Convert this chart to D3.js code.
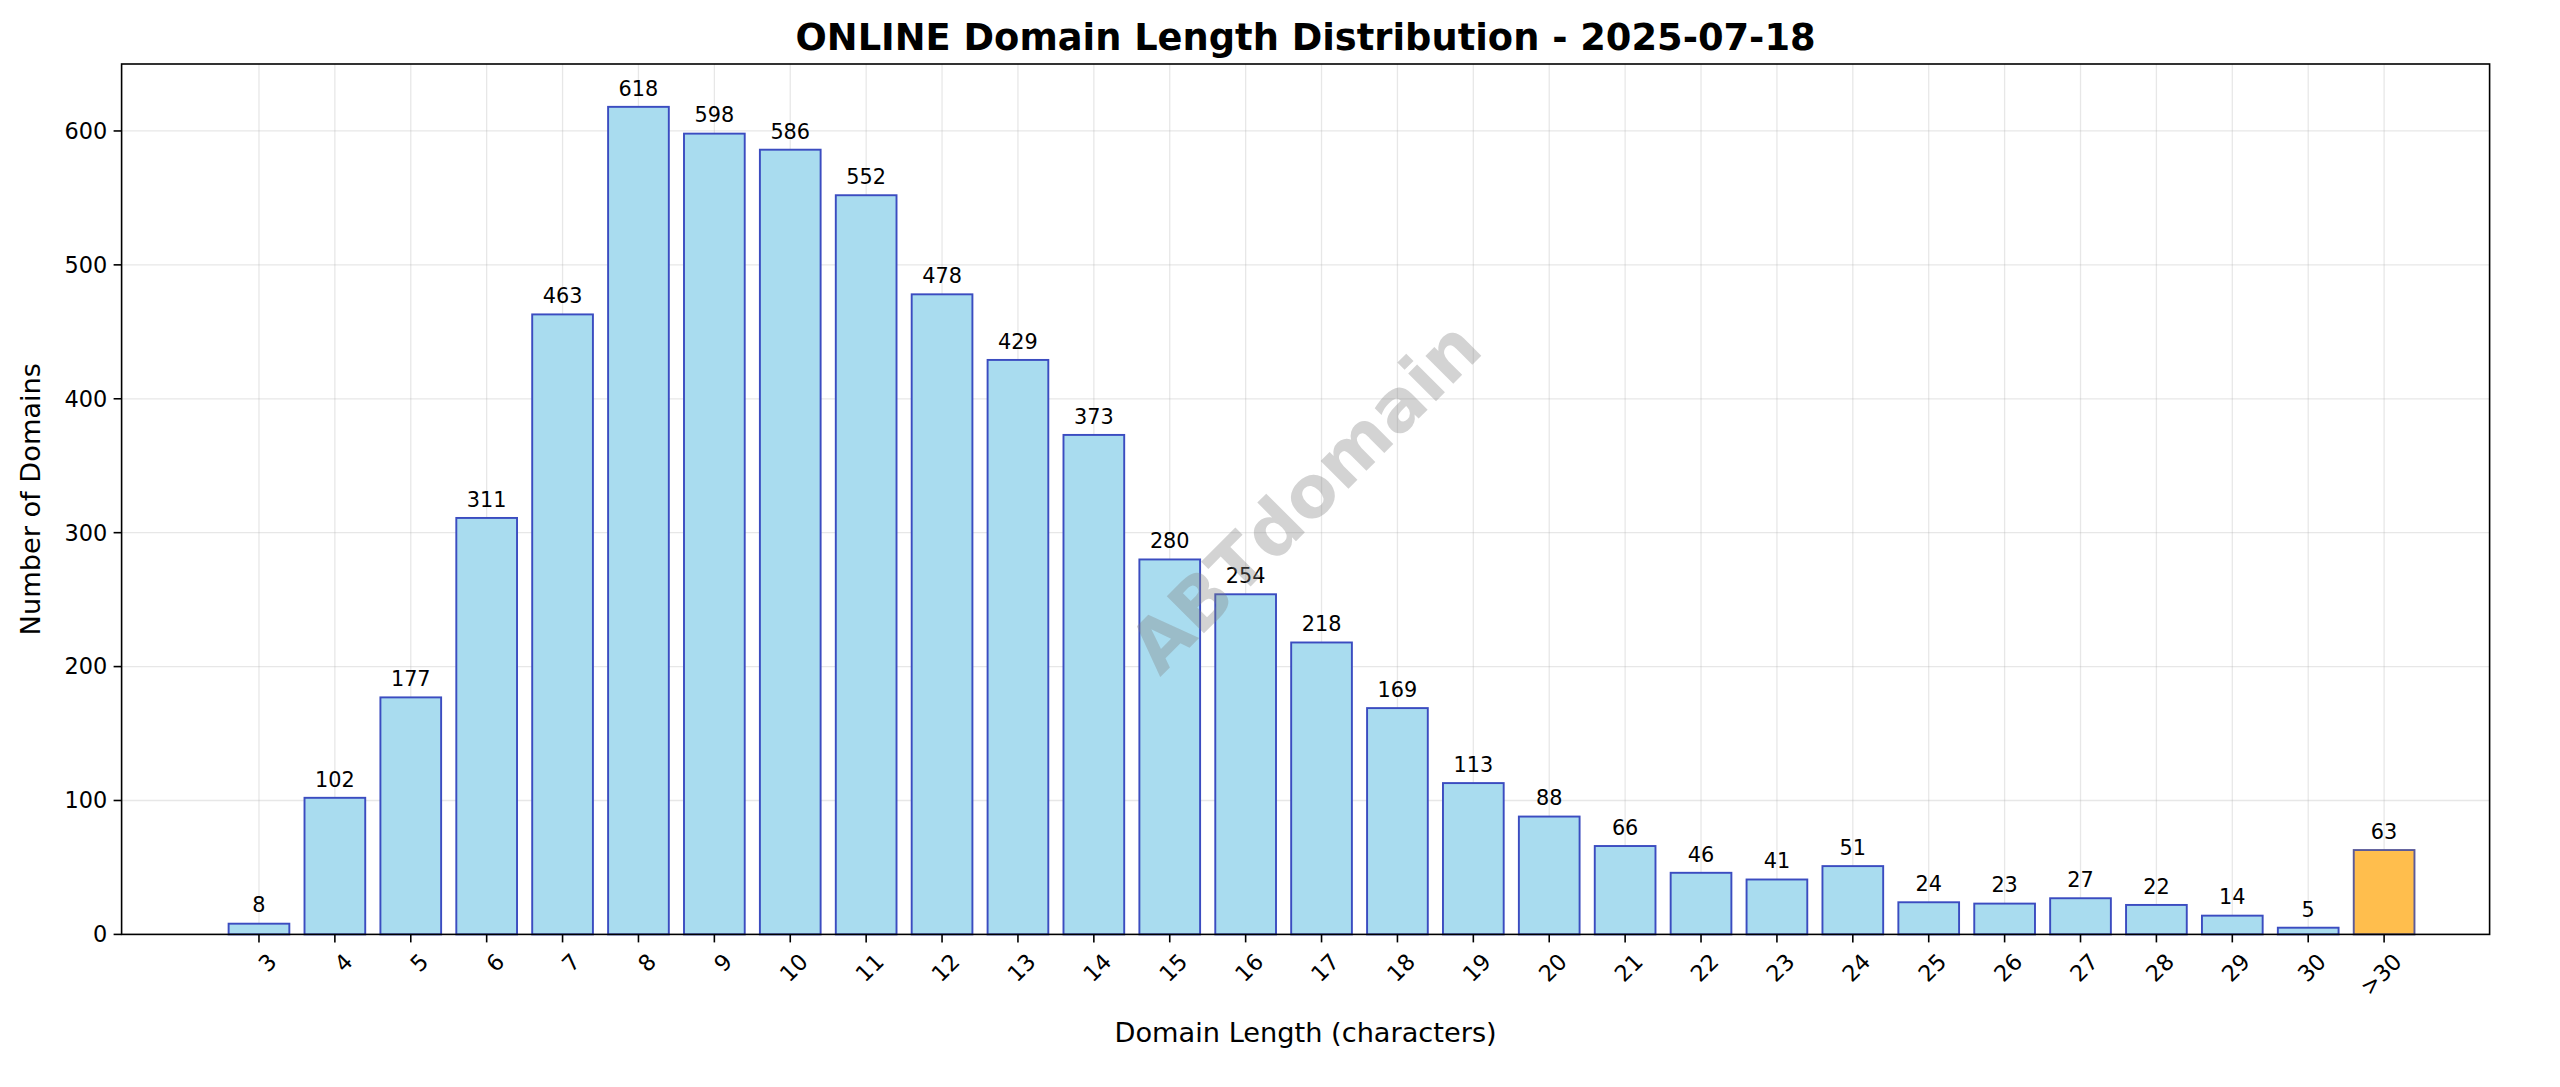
<!DOCTYPE html>
<html><head><meta charset="utf-8">
<script src="https://cdn.jsdelivr.net/npm/d3@7"></script>
<style>body{margin:0;background:#fff;overflow:hidden}svg{font-family:"DejaVu Sans",sans-serif;display:block}</style>
</head><body><svg id="c" width="2560" height="1087" viewBox="0 0 1600 679.375"></svg>
<script>
const categories = ["3","4","5","6","7","8","9","10","11","12","13","14","15","16","17","18","19","20","21","22","23","24","25","26","27","28","29","30",">30"];
const counts = [8,102,177,311,463,618,598,586,552,478,429,373,280,254,218,169,113,88,66,46,41,51,24,23,27,22,14,5,63];
const yTicks = [0,100,200,300,400,500,600];
const svg = d3.select("#c");
const L=76,R=1556,T=40,B=584;
const x = d3.scaleLinear().domain([-1.81, 28+1.39]).range([L,R]);
const y = d3.scaleLinear().domain([0,650]).range([B,T]);
const bw = x(0.4)-x(-0.4);
svg.append("g").selectAll("line").data(categories).join("line")
 .attr("x1",(d,i)=>x(i)).attr("x2",(d,i)=>x(i)).attr("y1",T).attr("y2",B)
 .attr("stroke","#b0b0b0").attr("stroke-opacity",0.3).attr("stroke-width",0.8);
svg.append("g").selectAll("line").data(yTicks).join("line")
 .attr("x1",L).attr("x2",R).attr("y1",d=>y(d)).attr("y2",d=>y(d))
 .attr("stroke","#b0b0b0").attr("stroke-opacity",0.3).attr("stroke-width",0.8);
svg.append("g").selectAll("rect").data(counts).join("rect")
 .attr("x",(d,i)=>x(i)-bw/2).attr("width",bw)
 .attr("y",d=>y(d)).attr("height",d=>B-y(d))
 .attr("fill",(d,i)=>categories[i]===">30"?"#FFBE4D":"#A9DCEF")
 .attr("stroke",(d,i)=>categories[i]===">30"?"#5a5a9a":"#3B4CC0").attr("stroke-width",1.2);
svg.append("g").selectAll("text").data(counts).join("text")
 .attr("x",(d,i)=>x(i)).attr("y",d=>y(d)-7).attr("text-anchor","middle")
 .attr("font-size",13).text(d=>d);
svg.append("text").attr("transform","translate(818,313) rotate(-45)")
 .attr("text-anchor","middle").attr("dominant-baseline","middle")
 .attr("font-size",45).attr("font-weight","bold").attr("fill","#808080").attr("fill-opacity",0.35).text("ABTdomain");
svg.append("rect").attr("x",L).attr("y",T).attr("width",R-L).attr("height",B-T).attr("fill","none").attr("stroke","#000").attr("stroke-width",1);
const yg = svg.append("g");
yTicks.forEach(t=>{
 yg.append("line").attr("x1",L-5).attr("x2",L).attr("y1",y(t)).attr("y2",y(t)).attr("stroke","#000");
 yg.append("text").attr("x",L-9).attr("y",y(t)).attr("dy","0.35em").attr("text-anchor","end").attr("font-size",14).text(t);
});
categories.forEach((c,i)=>{
 svg.append("line").attr("x1",x(i)).attr("x2",x(i)).attr("y1",B).attr("y2",B+5).attr("stroke","#000");
 svg.append("text").attr("transform",`translate(${x(i)+5},${B+11}) rotate(-45)`).attr("text-anchor","end").attr("dy","0.7em").attr("font-size",14).text(c);
});
svg.append("text").attr("x",(L+R)/2).attr("y",31).attr("text-anchor","middle").attr("font-size",23).attr("font-weight","bold").text("ONLINE Domain Length Distribution - 2025-07-18");
svg.append("text").attr("x",(L+R)/2).attr("y",651).attr("text-anchor","middle").attr("font-size",17).text("Domain Length (characters)");
svg.append("text").attr("transform",`translate(25,${(T+B)/2}) rotate(-90)`).attr("text-anchor","middle").attr("font-size",17).text("Number of Domains");
</script></body></html>
